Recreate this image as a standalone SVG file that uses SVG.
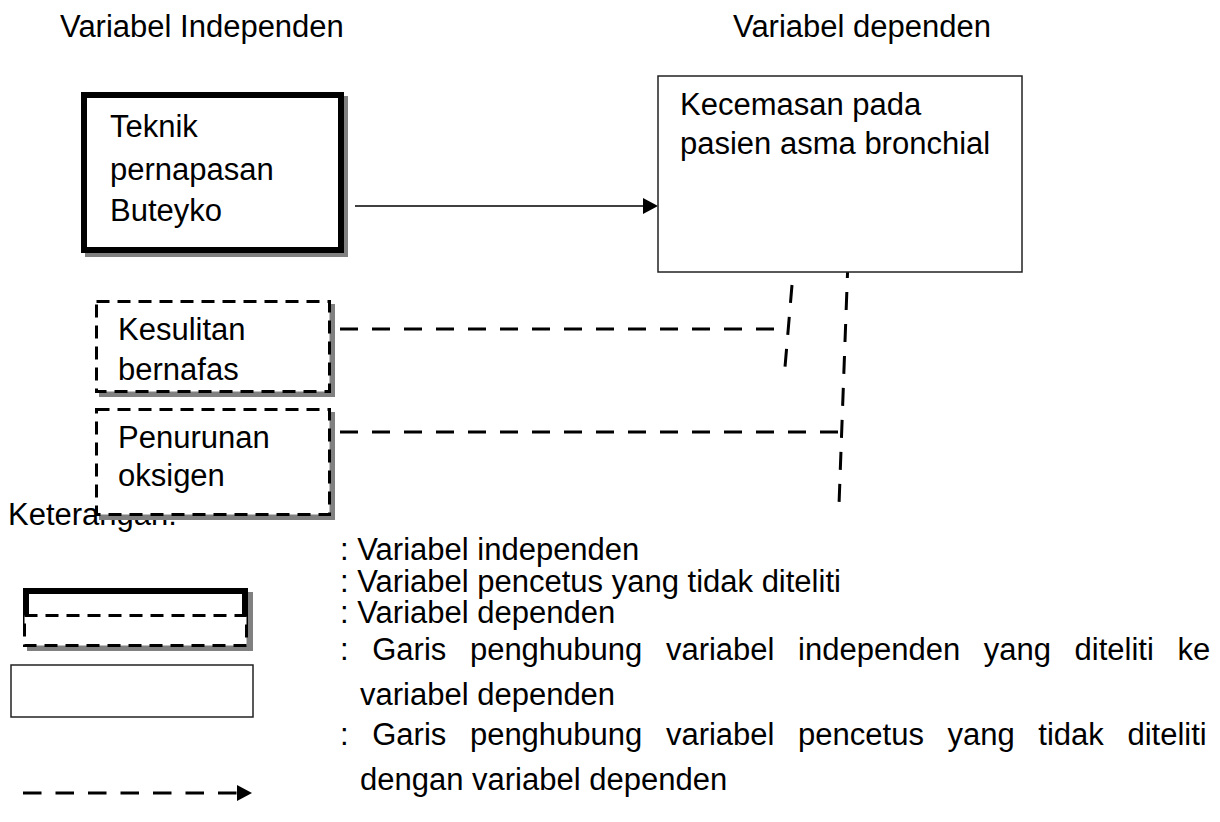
<svg xmlns="http://www.w3.org/2000/svg" width="1220" height="822" viewBox="0 0 1220 822">
<style>
text{font-family:"Liberation Sans",Arial,sans-serif;font-size:31px;fill:#000}
.shadow{fill:#808080}
.thick{fill:#fff;stroke:#000;stroke-width:6}
.dbox{fill:#fff;stroke:#000;stroke-width:3;stroke-dasharray:13 8}
.thin{fill:#fff;stroke:#222;stroke-width:1.5}
.dconn{fill:none;stroke:#000;stroke-width:3;stroke-dasharray:18 14}
</style>
<rect width="1220" height="822" fill="#fff"/>
<text x="60" y="37">Variabel Independen</text>
<text x="733" y="37">Variabel dependen</text>
<text x="8" y="525">Keterangan:</text>
<g id="connectors">
<line x1="355" y1="206" x2="644" y2="206" stroke="#000" stroke-width="1.5"/>
<polygon points="643,198 658,206 643,214" fill="#000"/>
<path class="dconn" d="M340,329 H782"/>
<path class="dconn" d="M792,285 L785,367"/>
<path class="dconn" d="M340,432 H840"/>
<path class="dconn" d="M848,260 L839,505"/>
</g>
<g id="teknik">
<rect class="shadow" x="85" y="96" width="263" height="161"/>
<rect class="thick" x="84" y="95" width="257" height="155"/>
<text x="110" y="137">Teknik</text>
<text x="110" y="180">pernapasan</text>
<text x="110" y="221">Buteyko</text>
</g>
<g id="kecemasan">
<rect class="thin" x="658" y="76" width="364" height="196"/>
<text x="680" y="115">Kecemasan pada</text>
<text x="680" y="154">pasien asma bronchial</text>
</g>
<g id="kesulitan">
<rect class="shadow" x="99" y="304" width="236" height="93"/>
<rect class="dbox" x="96.5" y="301.5" width="233" height="90"/>
<text x="118" y="340">Kesulitan</text>
<text x="118" y="380">bernafas</text>
</g>
<g id="penurunan">
<rect class="shadow" x="99" y="412" width="236" height="108"/>
<rect class="dbox" x="96.5" y="409.5" width="233" height="105"/>
<text x="118" y="448">Penurunan</text>
<text x="118" y="486">oksigen</text>
</g>
<g id="legend">
<rect class="shadow" x="27" y="592" width="226" height="59"/>
<rect class="thick" x="26" y="591" width="219" height="40"/>
<rect class="dbox" x="24.5" y="615.5" width="222" height="30"/>
<rect class="thin" x="11" y="665" width="242" height="52"/>
<line class="dconn" x1="23" y1="793" x2="238" y2="793" style="stroke-dasharray:18.5 14"/>
<polygon points="237,785 252,793 237,801" fill="#000"/>
<text x="340" y="560">: Variabel independen</text>
<text x="340" y="592">: Variabel pencetus yang tidak diteliti</text>
<text x="340" y="623">: Variabel dependen</text>
<text x="340" y="660" word-spacing="15">: Garis penghubung variabel independen yang diteliti ke</text>
<text x="360" y="705">variabel dependen</text>
<text x="340" y="745" word-spacing="15">: Garis penghubung variabel pencetus yang tidak diteliti</text>
<text x="360" y="790">dengan variabel dependen</text>
</g>
</svg>
